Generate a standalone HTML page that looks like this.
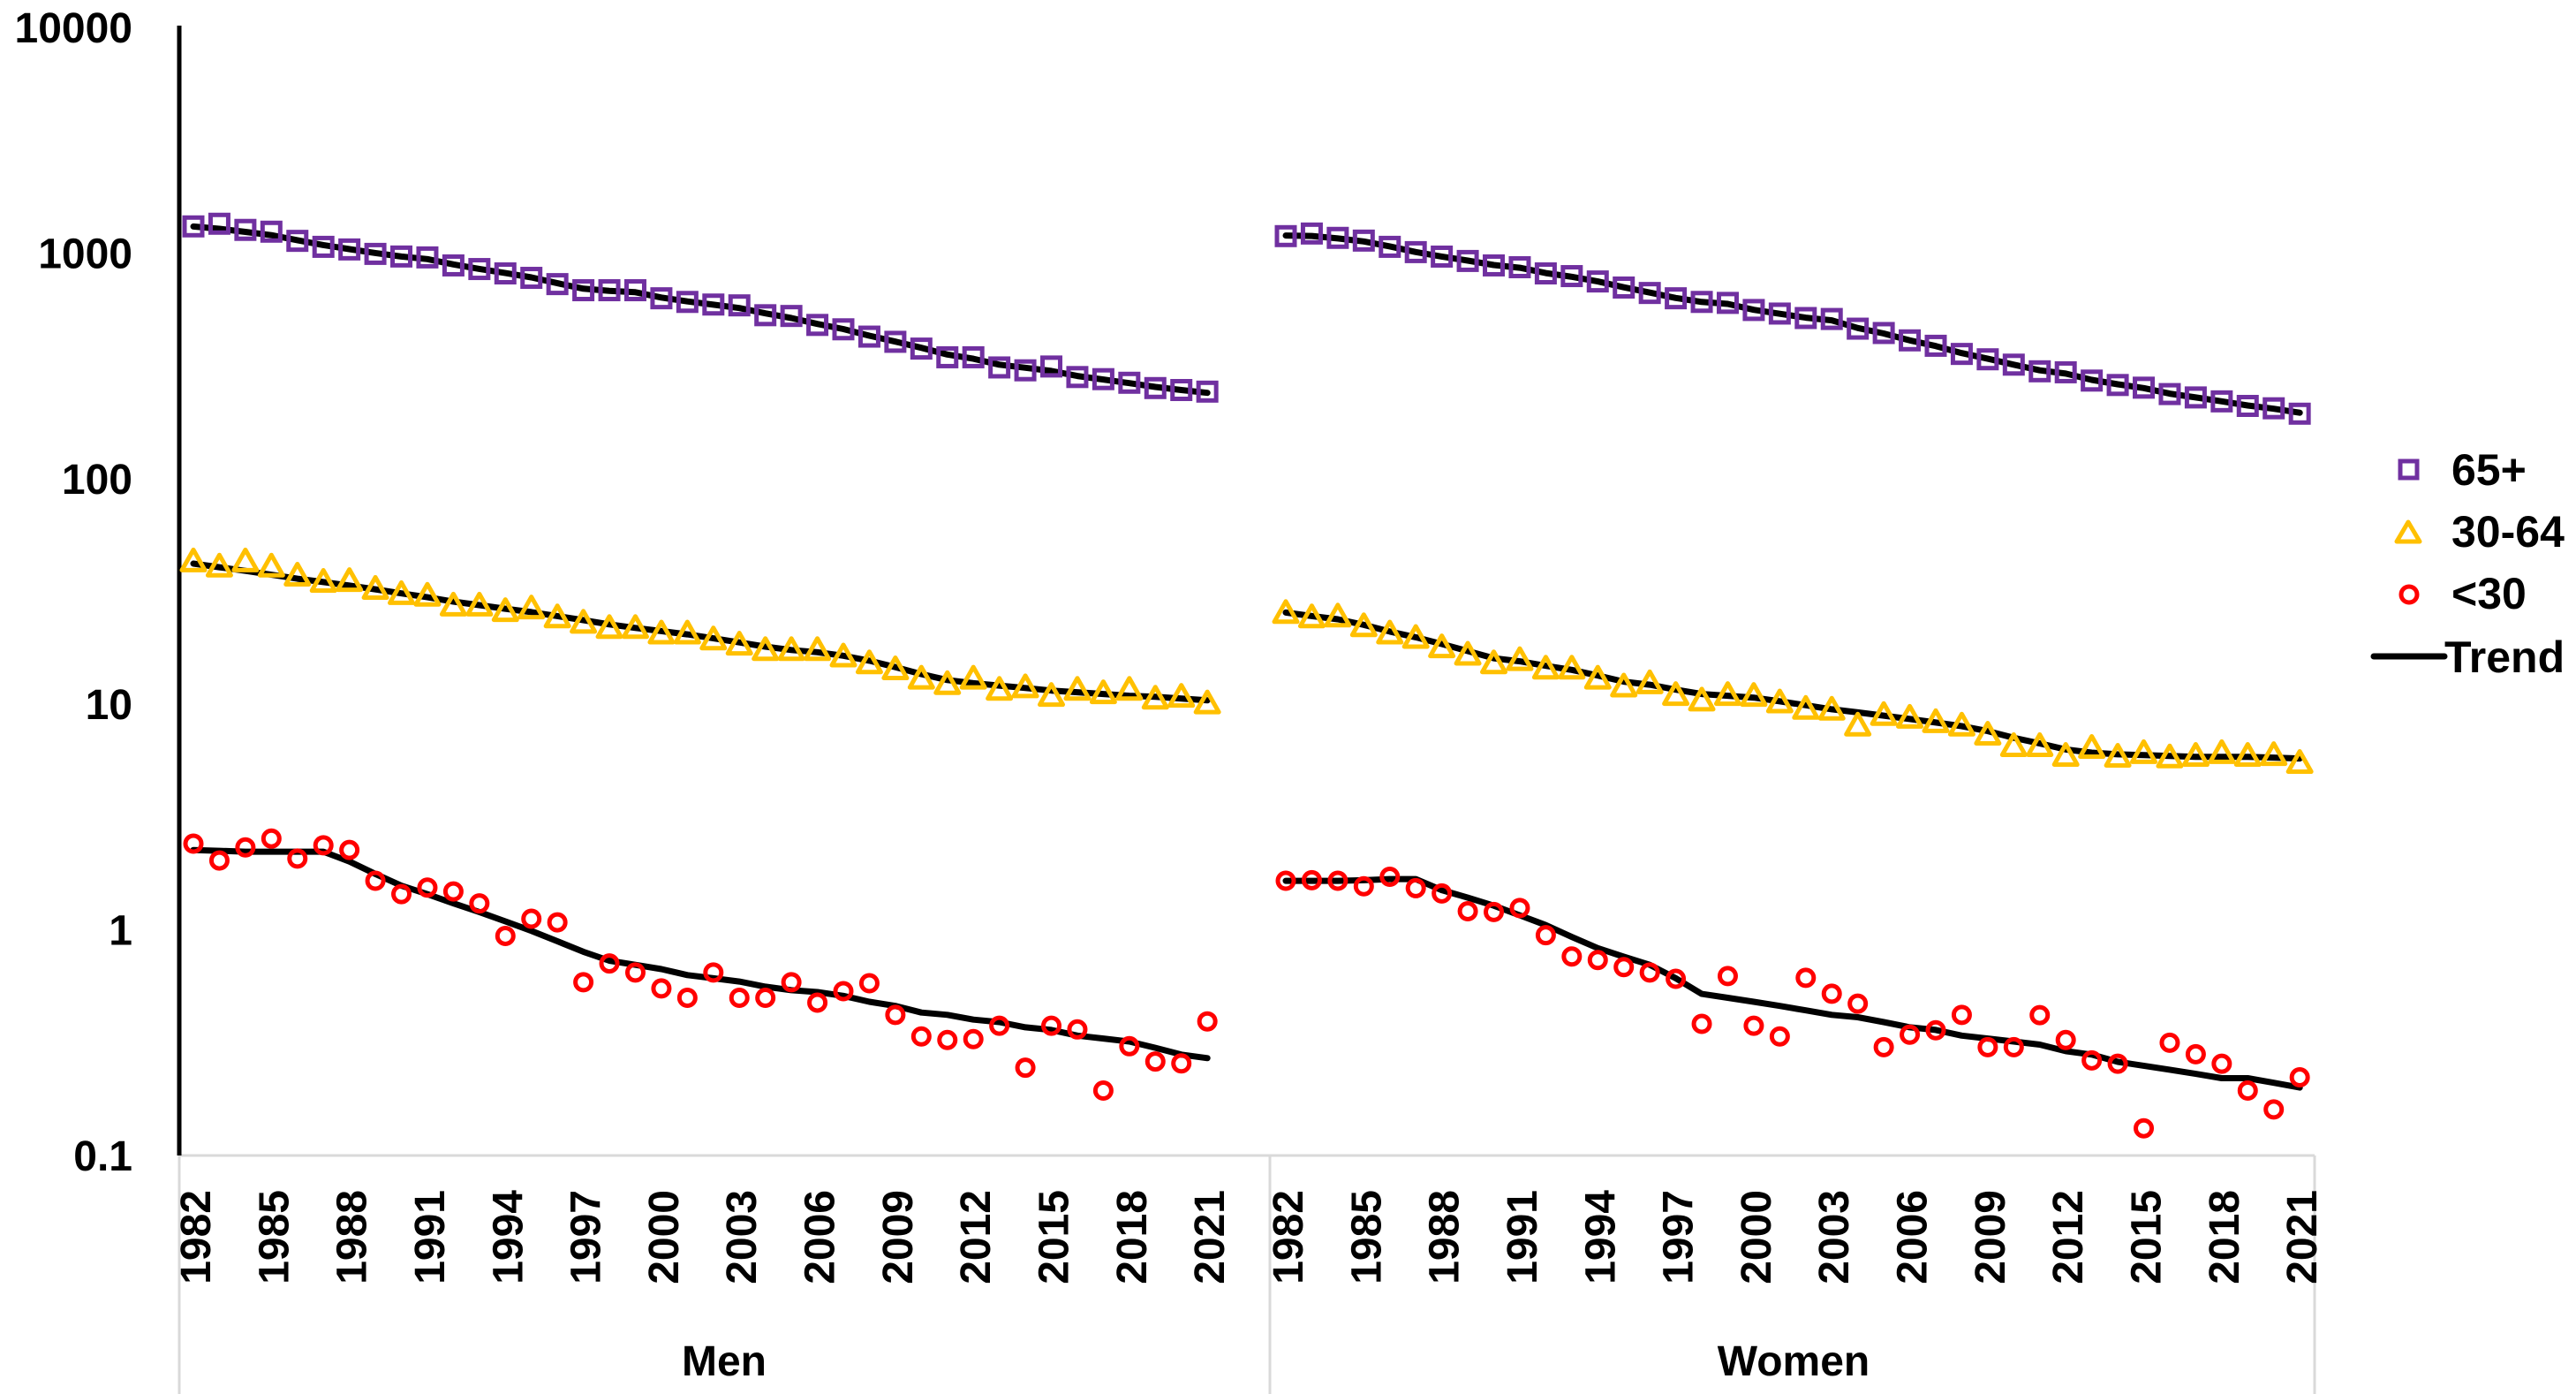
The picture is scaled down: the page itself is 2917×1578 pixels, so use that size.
<!DOCTYPE html>
<html><head><meta charset="utf-8"><style>
html,body{margin:0;padding:0;background:#fff;}
svg{display:block;font-family:"Liberation Sans",sans-serif;font-weight:bold;}
</style></head><body>
<svg id="chart" width="2917" height="1578" viewBox="0 0 2917 1578" xmlns="http://www.w3.org/2000/svg">
<g id="axes"></g>
<g id="marks"></g>
<g id="legend">
  <rect x="2718" y="522" width="19" height="19" fill="none" stroke="#7030a0" stroke-width="5"/>
  <text x="2776" y="549" font-size="50">65+</text>
  <polygon points="2727,591 2740,613 2714,613" fill="none" stroke="#ffc000" stroke-width="5" stroke-linejoin="round"/>
  <text x="2776" y="619" font-size="50">30-64</text>
  <circle cx="2728" cy="673" r="9" fill="none" stroke="#ff0000" stroke-width="5"/>
  <text x="2776" y="689" font-size="50">&lt;30</text>
  <line x1="2688" y1="743" x2="2768" y2="743" stroke="#000" stroke-width="7" stroke-linecap="round"/>
  <text x="2768" y="761" font-size="50">Trend</text>
</g>
</svg>
<script>
const years = [];
for (let y = 1982; y <= 2021; y++) years.push(y);
const yTicks = [0.1, 1, 10, 100, 1000, 10000];
const yTickLabels = ["0.1", "1", "10", "100", "1000", "10000"];
const panels = ["Men", "Women"];

const men65 = [1312,1348,1266,1243,1132,1065,1037,991,965,956,881,849,812,776,728,684,684,684,630,607,591,586,530,526,480,459,426,404,377,345,345,311,302,314,282,276,266,252,247,243];
const men3064 = [43,40.8,43,40.8,37.2,34.9,35.2,32.5,30.8,30.3,27.4,27.4,25.9,26.6,24.3,23.0,21.8,21.8,20.6,20.6,19.4,18.4,17.4,17.4,17.4,16.3,15.2,14.3,13.0,12.3,13.0,11.6,11.9,10.9,11.6,11.2,11.6,10.6,10.8,10.1];
const menU30 = [2.41,2.03,2.32,2.54,2.07,2.37,2.26,1.65,1.44,1.54,1.48,1.31,0.94,1.12,1.08,0.586,0.71,0.647,0.55,0.50,0.647,0.50,0.50,0.586,0.476,0.535,0.58,0.42,0.337,0.325,0.328,0.376,0.245,0.376,0.362,0.194,0.305,0.261,0.256,0.393];
const men65Trend = [1310,1280,1240,1200,1140,1085,1040,1000,965,940,890,850,815,780,735,695,680,670,635,610,590,570,540,515,485,460,430,405,380,355,340,320,310,300,285,275,265,255,247,240];
const men3064Trend = [42,40.5,39,37.5,36,34.8,33.6,32.3,31,29.8,28.5,27.5,26.5,25.6,24.6,23.6,22.6,21.8,21.1,20.4,19.6,18.8,18.0,17.4,17.0,16.4,15.6,14.6,13.6,12.8,12.4,12.1,11.8,11.5,11.3,11.1,10.9,10.8,10.6,10.4];
const menU30Trend = [2.26,2.24,2.22,2.22,2.22,2.22,2.01,1.77,1.57,1.44,1.31,1.20,1.09,0.99,0.89,0.80,0.73,0.70,0.67,0.63,0.61,0.59,0.56,0.54,0.53,0.51,0.48,0.46,0.43,0.42,0.40,0.39,0.37,0.36,0.34,0.33,0.32,0.30,0.28,0.27];

const wom65 = [1188,1220,1167,1135,1065,1009,964,922,881,865,812,790,748,703,665,630,607,601,559,539,515,510,462,442,410,388,357,338,320,299,296,272,260,253,237,229,220,210,205,194];
const wom3064 = [25.4,24.3,24.5,22.2,20.6,19.7,17.9,16.6,15.2,15.7,14.4,14.4,13.0,12.0,12.4,11.0,10.4,11.0,10.9,10.2,9.55,9.47,8.05,8.97,8.72,8.34,8.05,7.34,6.53,6.53,5.91,6.41,5.86,6.08,5.82,5.91,6.08,5.91,5.96,5.50];
const womU30 = [1.65,1.66,1.65,1.56,1.72,1.53,1.45,1.21,1.20,1.25,0.947,0.762,0.735,0.684,0.647,0.607,0.383,0.624,0.376,0.337,0.613,0.521,0.471,0.302,0.343,0.359,0.42,0.302,0.302,0.419,0.325,0.264,0.255,0.132,0.316,0.281,0.255,0.194,0.160,0.222];
const wom65Trend = [1195,1190,1160,1125,1070,1010,965,925,885,860,815,785,748,705,668,632,607,595,560,538,517,503,465,440,410,387,360,340,320,302,292,274,262,252,238,229,220,211,204,196];
const wom3064Trend = [25.5,24.6,23.8,22.5,21.0,19.8,18.5,17.2,16.0,15.5,14.8,14.2,13.4,12.6,12.2,11.6,11.1,10.9,10.7,10.3,9.9,9.5,9.2,8.9,8.6,8.3,8.0,7.6,7.1,6.7,6.3,6.1,6.0,5.95,5.9,5.85,5.85,5.85,5.8,5.75];
const womU30Trend = [1.65,1.65,1.65,1.66,1.68,1.68,1.50,1.39,1.28,1.16,1.05,0.93,0.83,0.76,0.70,0.61,0.52,0.50,0.48,0.46,0.44,0.42,0.41,0.39,0.37,0.36,0.34,0.33,0.32,0.31,0.29,0.28,0.26,0.25,0.24,0.23,0.22,0.22,0.21,0.20];

const NS = "http://www.w3.org/2000/svg";
const yBottom = 1308, yTop = 31, decades = 5;
function yScale(v) { return yBottom - (Math.log10(v) - Math.log10(0.1)) / decades * (yBottom - yTop); }
const panelStart = [219, 1456];
const step = 29.44;
function xScale(panel, i) { return panelStart[panel] + i * step; }

function mk(tag, attrs, parent) {
  const el = document.createElementNS(NS, tag);
  for (const k in attrs) el.setAttribute(k, attrs[k]);
  parent.appendChild(el);
  return el;
}
const axes = document.getElementById("axes");
const marks = document.getElementById("marks");

let el = mk("line", {x1: 203, y1: yBottom, x2: 2621, y2: yBottom, stroke: "#d9d9d9", "stroke-width": 3}, axes);


[203, 1438, 2621].forEach(function (x) {
  const t = mk("line", {x1: x, y1: yBottom, x2: x, y2: 1578, stroke: "#d9d9d9", "stroke-width": 3}, axes);
  
  
});
el = mk("line", {x1: 203, y1: yTop - 2, x2: 203, y2: yBottom, stroke: "#000", "stroke-width": 5}, axes);


yTicks.forEach(function (v, i) {
  const t = mk("text", {x: 150, y: yScale(v) + 17, "text-anchor": "end", "font-size": 48}, axes);
  t.textContent = yTickLabels[i];
  
  
});
[0, 1].forEach(function (p) {
  years.forEach(function (yr, i) {
    if ((yr - 1982) % 3 !== 0) return;
    const x = xScale(p, i) + 2;
    const t = mk("text", {x: 0, y: 0, "text-anchor": "end", "font-size": 48, transform: "translate(" + (x + 17) + ",1347) rotate(-90)"}, axes);
    t.textContent = yr;
    
    
  });
  const lbl = mk("text", {x: p === 0 ? 820 : 2031, y: 1557, "text-anchor": "middle", "font-size": 48}, axes);
  lbl.textContent = panels[p];
  
  
});

function drawTrend(p, arr, name) {
  const pts = arr.map(function (v, i) { return xScale(p, i).toFixed(1) + "," + yScale(v).toFixed(1); }).join(" ");
  const pl = mk("polyline", {points: pts, fill: "none", stroke: "#000", "stroke-width": 7, "stroke-linejoin": "round", "stroke-linecap": "round"}, marks);
  
  
}
function drawPoints(p, arr, shape, name) {
  arr.forEach(function (v, i) {
    const x = xScale(p, i), y = yScale(v);
    let m;
    if (shape === "square") m = mk("rect", {x: x - 10, y: y - 10, width: 20, height: 20, fill: "none", stroke: "#7030a0", "stroke-width": 5}, marks);
    else if (shape === "tri") m = mk("polygon", {points: x + "," + (y - 13) + " " + (x + 13) + "," + (y + 10) + " " + (x - 13) + "," + (y + 10), fill: "none", stroke: "#ffc000", "stroke-width": 5, "stroke-linejoin": "round"}, marks);
    else m = mk("circle", {cx: x, cy: y, r: 9, fill: "none", stroke: "#ff0000", "stroke-width": 5}, marks);
    
    
  });
}
drawTrend(0, men65Trend, "trend-men-65plus");
drawTrend(0, men3064Trend, "trend-men-30-64");
drawTrend(0, menU30Trend, "trend-men-under30");
drawTrend(1, wom65Trend, "trend-women-65plus");
drawTrend(1, wom3064Trend, "trend-women-30-64");
drawTrend(1, womU30Trend, "trend-women-under30");
drawPoints(0, men65, "square", "point-men-65plus");
drawPoints(0, men3064, "tri", "point-men-30-64");
drawPoints(0, menU30, "circle", "point-men-under30");
drawPoints(1, wom65, "square", "point-women-65plus");
drawPoints(1, wom3064, "tri", "point-women-30-64");
drawPoints(1, womU30, "circle", "point-women-under30");
</script>
</body></html>
